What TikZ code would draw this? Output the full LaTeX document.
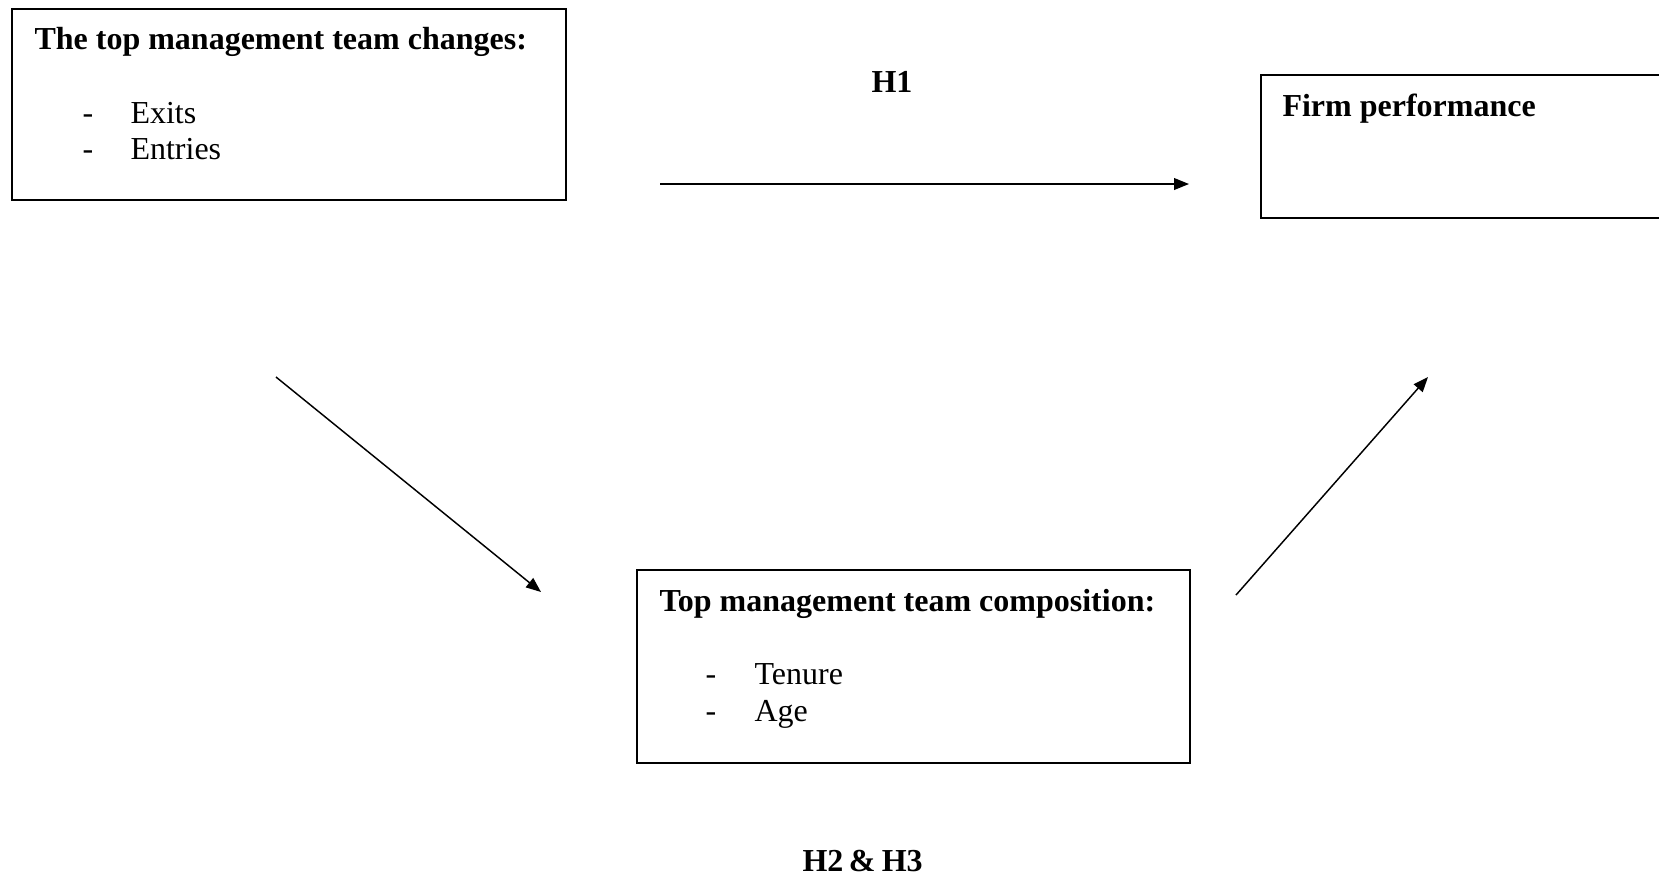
\documentclass[tikz,border=0pt]{standalone}
\usepackage{fontspec}
\setmainfont{Liberation Serif}
\usetikzlibrary{arrows.meta, positioning, fit}

\begin{document}
\begin{tikzpicture}[
        x=0.375pt, y=-0.375pt,
        box/.style={draw, line width=0.8pt, inner sep=0pt},
        link/.style={line width=0.55pt, -{Triangle[length=5.6pt, width=4.4pt]}},
        head/.style={anchor=base west, inner sep=0pt, font=\fontsize{12}{14}\selectfont\bfseries},
        item/.style={anchor=base west, inner sep=0pt, font=\fontsize{12}{14}\selectfont}
    ]

    \useasboundingbox (0,0) rectangle (1659,877);

    % Boxes
    \node[box, fit={(12,9) (566,200)}] (changes) {};
    \node[box, fit={(1261,75) (1700,218)}] (perf) {};
    \node[box, fit={(637,570) (1190,763)}] (comp) {};

    % Box texts
    \node[head] (changestitle) at (34,49) {The top management team changes:};
    \node[item] (exitsdash) at (82,123) {-};
    \node[item] (exits) at (130,123) {Exits};
    \node[item] (entriesdash) at (82,159) {-};
    \node[item] (entries) at (130,159) {Entries};

    \node[head] (perftitle) at (1282,116) {Firm performance};

    \node[head] (comptitle) at (659,611) {Top management team composition:};
    \node[item] (tenuredash) at (705,684) {-};
    \node[item] (tenure) at (754,684) {Tenure};
    \node[item] (agedash) at (705,721) {-};
    \node[item] (age) at (754,721) {Age};

    % Hypotheses
    \node[head] (hone) at (871,92) {H1};
    \node[head] (htwo) at (802,871) {H2\hspace{2pt}\&\hspace{2.4pt}H3};

    % Arrows
    \coordinate (a1s) at (660,184);
    \coordinate (a1e) at (1189,184);
    \coordinate (a2s) at (276,377);
    \coordinate (a2e) at (541,592);
    \coordinate (a3s) at (1236,595);
    \coordinate (a3e) at (1428,377);
    \draw[link] (a1s) -- (a1e);
    \draw[link] (a2s) -- (a2e);
    \draw[link] (a3s) -- (a3e);

\end{tikzpicture}
\end{document}
